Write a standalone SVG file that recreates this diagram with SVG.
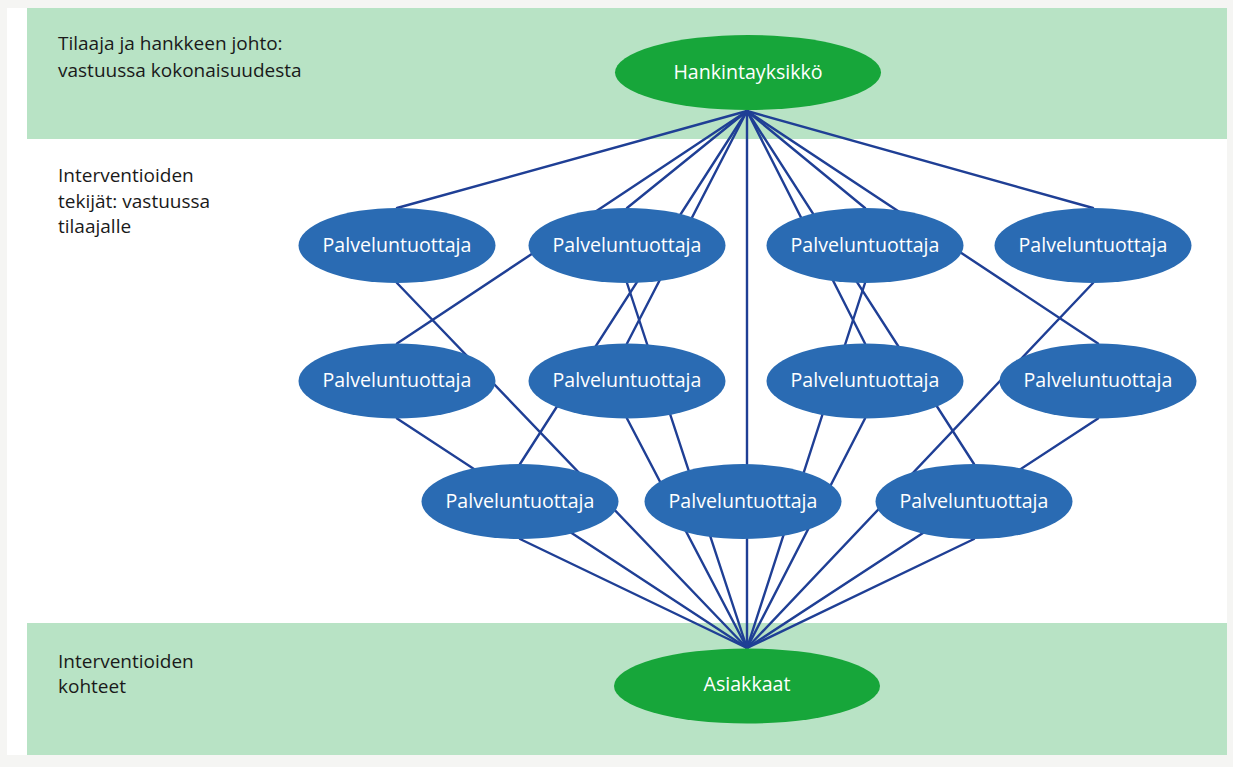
<svg xmlns="http://www.w3.org/2000/svg" width="1233" height="767" viewBox="0 0 1233 767">
<style>
.band{fill:#b8e3c5}
.lbl{font-family:"Open Sans","Noto Sans","Liberation Sans",sans-serif;font-size:19px;fill:#1a1a1a}
.nt{font-family:"Open Sans","Noto Sans","Liberation Sans",sans-serif;font-size:19.6px;fill:#ffffff;text-anchor:middle}
.gn{fill:#17a63a}
.bl{fill:#2a6bb3}
#connectors line{stroke:#1f3f95;stroke-width:2.4;stroke-linecap:round}
</style>
<rect x="0" y="0" width="1233" height="767" fill="#f5f5f3"/>
<rect x="7" y="8" width="1220" height="747" fill="#ffffff"/>
<rect class="band" x="27" y="8" width="1200" height="131"/>
<rect class="band" x="27" y="623" width="1200" height="132"/>
<g id="labels">
<text class="lbl" x="58" y="50">Tilaaja ja hankkeen johto:</text>
<text class="lbl" x="58" y="76.5">vastuussa kokonaisuudesta</text>
<text class="lbl" x="58" y="182">Interventioiden</text>
<text class="lbl" x="58" y="207.5">tekijät: vastuussa</text>
<text class="lbl" x="58" y="233">tilaajalle</text>
<text class="lbl" x="58" y="668">Interventioiden</text>
<text class="lbl" x="58" y="693">kohteet</text>
</g>
<g id="connectors">
<line x1="747" y1="111" x2="397" y2="208"/>
<line x1="747" y1="111" x2="627" y2="208"/>
<line x1="747" y1="111" x2="865" y2="208"/>
<line x1="747" y1="111" x2="1093" y2="208"/>
<line x1="747" y1="111" x2="397" y2="343.5"/>
<line x1="747" y1="111" x2="627" y2="343.5"/>
<line x1="747" y1="111" x2="865" y2="343.5"/>
<line x1="747" y1="111" x2="1098" y2="343.5"/>
<line x1="747" y1="111" x2="520" y2="464"/>
<line x1="747" y1="111" x2="747" y2="464"/>
<line x1="747" y1="111" x2="974" y2="464"/>
<line x1="747" y1="648" x2="397" y2="283"/>
<line x1="747" y1="648" x2="627" y2="283"/>
<line x1="747" y1="648" x2="865" y2="283"/>
<line x1="747" y1="648" x2="1093" y2="283"/>
<line x1="747" y1="648" x2="397" y2="418.5"/>
<line x1="747" y1="648" x2="627" y2="418.5"/>
<line x1="747" y1="648" x2="865" y2="418.5"/>
<line x1="747" y1="648" x2="1098" y2="418.5"/>
<line x1="747" y1="648" x2="520" y2="539"/>
<line x1="747" y1="648" x2="747" y2="539"/>
<line x1="747" y1="648" x2="974" y2="539"/>
</g>
<g id="hankintayksikko"><ellipse class="gn" cx="748" cy="72.5" rx="133" ry="37.5"/><text class="nt" x="748" y="78.5">Hankintayksikkö</text></g>
<g id="asiakkaat"><ellipse class="gn" cx="747" cy="686" rx="133" ry="37.5"/><text class="nt" x="747" y="691">Asiakkaat</text></g>
<g id="p1"><ellipse class="bl" cx="397" cy="245.5" rx="98.5" ry="37.5"/><text class="nt" x="397" y="252">Palveluntuottaja</text></g>
<g id="p2"><ellipse class="bl" cx="627" cy="245.5" rx="98.5" ry="37.5"/><text class="nt" x="627" y="252">Palveluntuottaja</text></g>
<g id="p3"><ellipse class="bl" cx="865" cy="245.5" rx="98.5" ry="37.5"/><text class="nt" x="865" y="252">Palveluntuottaja</text></g>
<g id="p4"><ellipse class="bl" cx="1093" cy="245.5" rx="98.5" ry="37.5"/><text class="nt" x="1093" y="252">Palveluntuottaja</text></g>
<g id="p5"><ellipse class="bl" cx="397" cy="381" rx="98.5" ry="37.5"/><text class="nt" x="397" y="387">Palveluntuottaja</text></g>
<g id="p6"><ellipse class="bl" cx="627" cy="381" rx="98.5" ry="37.5"/><text class="nt" x="627" y="387">Palveluntuottaja</text></g>
<g id="p7"><ellipse class="bl" cx="865" cy="381" rx="98.5" ry="37.5"/><text class="nt" x="865" y="387">Palveluntuottaja</text></g>
<g id="p8"><ellipse class="bl" cx="1098" cy="381" rx="98.5" ry="37.5"/><text class="nt" x="1098" y="387">Palveluntuottaja</text></g>
<g id="p9"><ellipse class="bl" cx="520" cy="501.5" rx="98.5" ry="37.5"/><text class="nt" x="520" y="507.5">Palveluntuottaja</text></g>
<g id="p10"><ellipse class="bl" cx="743" cy="501.5" rx="98.5" ry="37.5"/><text class="nt" x="743" y="507.5">Palveluntuottaja</text></g>
<g id="p11"><ellipse class="bl" cx="974" cy="501.5" rx="98.5" ry="37.5"/><text class="nt" x="974" y="507.5">Palveluntuottaja</text></g>
</svg>
